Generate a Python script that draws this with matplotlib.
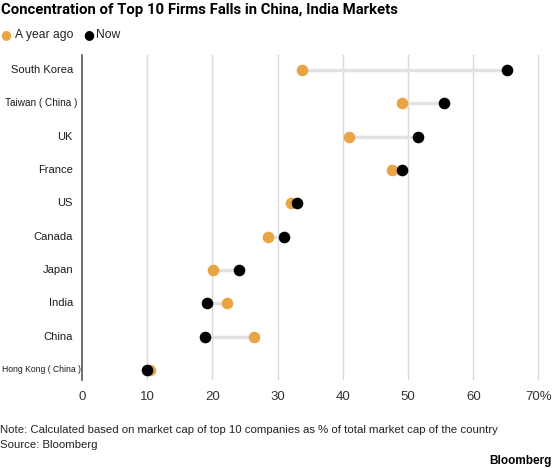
import matplotlib.pyplot as plt
import matplotlib.transforms as mtransforms

plt.rcParams['font.family'] = ['Liberation Sans', 'DejaVu Sans']

countries = ["Hong Kong ( China )", "China", "India", "Japan", "Canada", "US",
             "France", "UK", "Taiwan ( China )", "South Korea"]
year_ago = [10.4, 26.4, 22.2, 20.1, 28.5, 32.1, 47.6, 41.0, 49.1, 33.7]
now = [9.9, 18.9, 19.2, 24.1, 30.9, 32.9, 49.0, 51.6, 55.5, 65.2]
xticks = [0, 10, 20, 30, 40, 50, 60, 70]
xtick_labels = ["0", "10", "20", "30", "40", "50", "60", "70%"]

orange = "#e8a445"
W, H = 554, 468
fig = plt.figure(figsize=(W / 100, H / 100), dpi=100)
ax = fig.add_axes([82 / W, (H - 380) / H, 463 / W, 325 / H])

ypos = list(range(len(countries)))
for y, a, b in zip(ypos, year_ago, now):
    ax.plot([a, b], [y, y], color="#e2e2e2", lw=2.5, zorder=2, solid_capstyle="butt")
ax.scatter(year_ago, ypos, s=70, color=orange, zorder=3, linewidths=0)
ax.scatter(now, ypos, s=70, color="black", zorder=4, linewidths=0)

ax.set_xlim(0, 71)
ax.set_ylim(-0.3, 9.45)
for x in xticks[1:]:
    ax.axvline(x, color="#d9d9d9", lw=1, zorder=1)
ax.set_xticks(xticks)
ax.set_xticklabels(xtick_labels, fontsize=9.5, color="#333333")
ax.tick_params(axis="x", length=0, pad=8)
ax.set_yticks([])

# country labels, the two long ones sit closer to the axis / smaller
trans = mtransforms.blended_transform_factory(ax.transAxes, ax.transData)
for y, name in zip(ypos, countries):
    size, gap = 8.0, 9
    if name.startswith("Taiwan"):
        size, gap = 7.2, 5
    if name.startswith("Hong Kong"):
        size, gap = 6.2, 0.5
    ax.text(-gap / 463, y, name, transform=trans, ha="right", va="center",
            fontsize=size, color="#1a1a1a")

for s in ["top", "right", "bottom"]:
    ax.spines[s].set_visible(False)
ax.spines["left"].set_color("#555555")
ax.spines["left"].set_linewidth(1.2)

fig.text(1 / W, 1 - 10 / H, "Concentration of Top 10 Firms Falls in China, India Markets",
         fontsize=10.7, fontweight="bold", va="center", ha="left",
         family=["Roboto", "Liberation Sans"])
fig.text(0, 1 - 35 / H, "\u25CF", color=orange, fontsize=9, va="center", ha="left",
         family="DejaVu Sans")
fig.text(15 / W, 1 - 35 / H, "A year ago", fontsize=8.7, va="center", ha="left", color="#222222")
fig.text(83 / W, 1 - 35 / H, "\u25CF", color="black", fontsize=9, va="center", ha="left",
         family="DejaVu Sans")
fig.text(96 / W, 1 - 35 / H, "Now", fontsize=8.7, va="center", ha="left", color="#222222")

fig.text(0, 1 - 430 / H,
         "Note: Calculated based on market cap of top 10 companies as % of total market cap of the country",
         fontsize=8.2, va="center", ha="left", color="#222222")
fig.text(0, 1 - 445 / H, "Source: Bloomberg", fontsize=8.2, va="center", ha="left", color="#222222")
fig.text(552 / W, 1 - 461 / H, "Bloomberg", fontsize=8.5, fontweight="bold",
         va="center", ha="right")

fig.savefig("out.png", dpi=100)
